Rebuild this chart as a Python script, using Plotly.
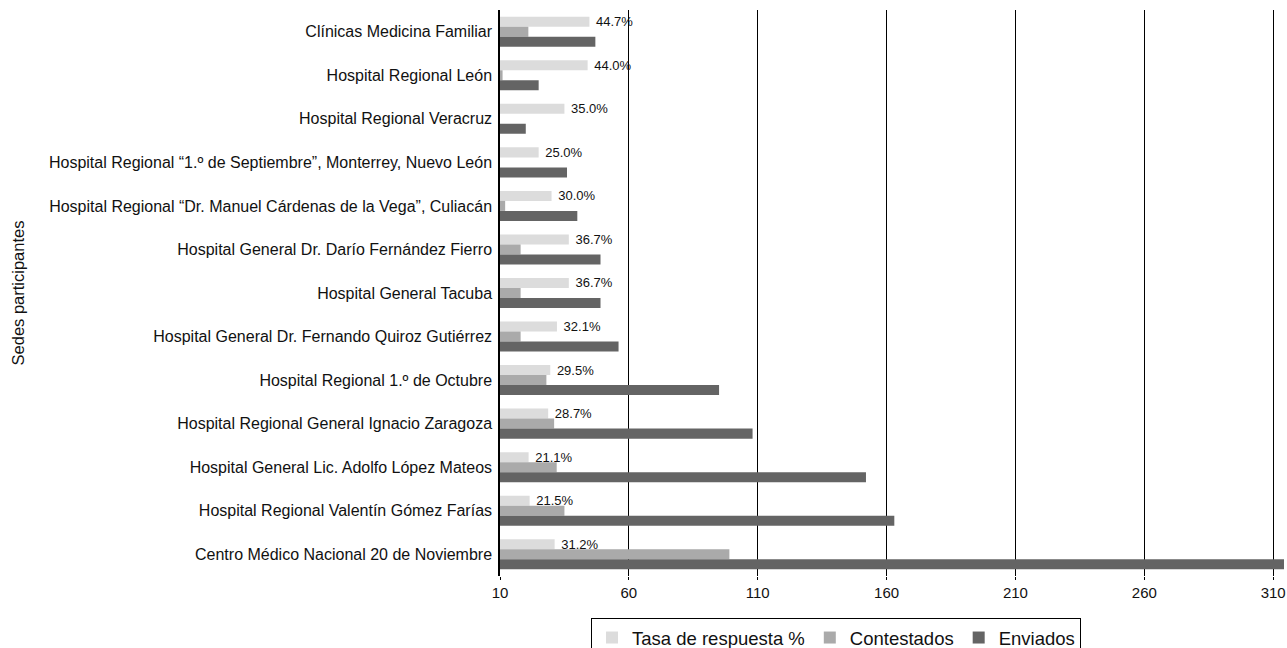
import plotly.graph_objects as go

categorias = [
    "Clínicas Medicina Familiar",
    "Hospital Regional León",
    "Hospital Regional Veracruz",
    "Hospital Regional “1.º de Septiembre”, Monterrey, Nuevo León",
    "Hospital Regional “Dr. Manuel Cárdenas de la Vega”, Culiacán",
    "Hospital General Dr. Darío Fernández Fierro",
    "Hospital General Tacuba",
    "Hospital General Dr. Fernando Quiroz Gutiérrez",
    "Hospital Regional 1.º de Octubre",
    "Hospital Regional General Ignacio Zaragoza",
    "Hospital General Lic. Adolfo López Mateos",
    "Hospital Regional Valentín Gómez Farías",
    "Centro Médico Nacional 20 de Noviembre",
]
tasa = [44.7, 44.0, 35.0, 25.0, 30.0, 36.7, 36.7, 32.1, 29.5, 28.7, 21.1, 21.5, 31.2]
contestados = [21, 11, 7, 9, 12, 18, 18, 18, 28, 31, 32, 35, 99]
enviados = [47, 25, 20, 36, 40, 49, 49, 56, 95, 108, 152, 163, 317]
tick_vals = [10, 60, 110, 160, 210, 260, 310]

FONT = "Liberation Sans, Arial, sans-serif"

fig = go.Figure()
fig.add_trace(go.Bar(
    y=categorias, x=tasa, orientation="h", name="Tasa de respuesta %",
    marker=dict(color="#dcdcdc", line=dict(width=0)),
    text=[f" {v:.1f}%" for v in tasa], textposition="outside",
    textfont=dict(size=13, color="#111111", family=FONT),
    constraintext="none", cliponaxis=False,
))
fig.add_trace(go.Bar(
    y=categorias, x=contestados, orientation="h", name="Contestados",
    marker=dict(color="#aaaaaa", line=dict(width=0)),
))
fig.add_trace(go.Bar(
    y=categorias, x=enviados, orientation="h", name="Enviados",
    marker=dict(color="#646464", line=dict(width=0)),
))

fig.update_layout(
    width=1287, height=648,
    margin=dict(l=500, r=3, t=10, b=72, autoexpand=False),
    paper_bgcolor="white", plot_bgcolor="white",
    barmode="group", bargap=0.31, bargroupgap=0,
    font=dict(family=FONT, color="#111111"),
    showlegend=True,
    legend=dict(
        orientation="h", x=0.4286, xanchor="center",
        yref="container", y=1 - 618 / 648, yanchor="top",
        bordercolor="black", borderwidth=1, bgcolor="white",
        font=dict(size=18.5, family=FONT), itemwidth=30, traceorder="normal",
    ),
)
fig.update_xaxes(
    range=[10, 314.2], tickvals=tick_vals, ticktext=[str(v) for v in tick_vals],
    showgrid=True, gridcolor="black", gridwidth=1,
    ticks="outside", ticklen=3, tickcolor="black",
    tickfont=dict(size=15, family=FONT), zeroline=False, showline=False,
)
fig.update_yaxes(
    autorange="reversed", showline=True, linecolor="black", linewidth=1.5,
    ticks="", tickfont=dict(size=16, family=FONT), ticklabelstandoff=3,
    title=dict(text="Sedes participantes", font=dict(size=16.5, family=FONT), standoff=20),
)
fig.write_html(
    "out.html",
    config={"displayModeBar": False},
    post_script="document.body.style.margin='0';document.body.style.overflow='hidden';",
)
